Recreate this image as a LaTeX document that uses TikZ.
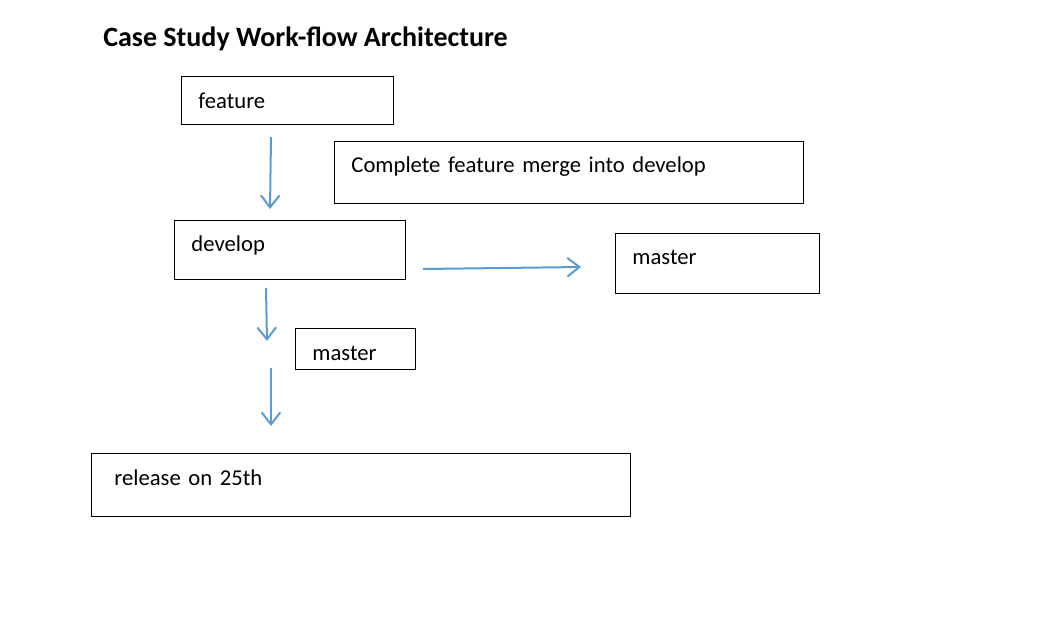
\documentclass[tikz,border=0pt]{standalone}
\usepackage{fontspec}
\setmainfont{Carlito}
\usetikzlibrary{arrows.meta, positioning}
\definecolor{flowblue}{HTML}{5B9BD5}
\tikzstyle{branchbox} = [draw, rectangle, line width=0.7pt, anchor=north west,
    align=left, inner xsep=12.75pt, inner ysep=0pt, font=\fontsize{17pt}{19pt}\selectfont]
\tikzstyle{flow} = [-{Straight Barb[length=9pt, width=14pt, line width=1.5pt]},
    line width=1.5pt, flowblue]

\begin{document}
\begin{tikzpicture}[x=0.75pt, y=-0.75pt]
    \useasboundingbox (0,0) rectangle (1056,628);

    % Title
    \node [anchor=west, inner sep=0pt, font=\fontsize{21pt}{23pt}\selectfont\bfseries] (title) at (103,39)
        {Case Study Work-flow Architecture};

    % Place the boxes
    \node [branchbox, text width=133.5pt, minimum height=36pt, text depth=0pt] (feature) at (181,76) {feature};
    \node [branchbox, text width=326.25pt, minimum height=46.5pt, text depth=12pt] (merge) at (334,141) {Complete feature merge into develop};
    \node [branchbox, text width=147.75pt, minimum height=44.25pt, text depth=9pt] (develop) at (174,220) {develop};
    \node [branchbox, text width=127.5pt, minimum height=45pt, text depth=9pt] (master) at (615,233) {master};
    \node [branchbox, text width=64.5pt, minimum height=30.75pt, text height=18pt, text depth=0pt] (mastersmall) at (295,328) {master};
    \node [branchbox, inner xsep=17.25pt, text width=369.75pt, minimum height=47.25pt, text depth=11pt] (release) at (91,453) {release on 25th};

    % Arrow ends
    \coordinate (a1) at (271,137);
    \coordinate (b1) at (270,209);
    \coordinate (a2) at (423,269);
    \coordinate (b2) at (581,267);
    \coordinate (a3) at (266,288);
    \coordinate (b3) at (267,341);
    \coordinate (a4) at (271,368);
    \coordinate (b4) at (271,426);

    % Connect the boxes
    \draw [flow] (a1) -- (b1);
    \draw [flow] (a2) -- (b2);
    \draw [flow] (a3) -- (b3);
    \draw [flow] (a4) -- (b4);
\end{tikzpicture}
\end{document}
